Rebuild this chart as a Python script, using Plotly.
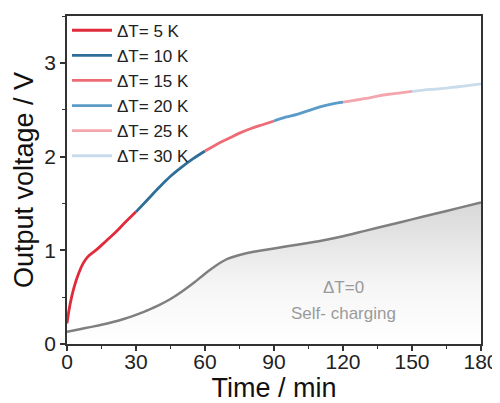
import plotly.graph_objects as go

# Data
seg_names = ["ΔT= 5 K", "ΔT= 10 K", "ΔT= 15 K", "ΔT= 20 K", "ΔT= 25 K", "ΔT= 30 K"]
seg_colors = ["#e02b3b", "#2f6e98", "#ee6b74", "#5a9bc8", "#f4a6ae", "#c9dcec"]

t5 = [0, 1, 2, 3, 5, 7, 9, 13, 17, 21, 25, 30]
v5 = [0.22, 0.38, 0.50, 0.60, 0.75, 0.86, 0.93, 1.01, 1.10, 1.19, 1.29, 1.41]
t10 = [30, 35, 40, 45, 50, 55, 60]
v10 = [1.41, 1.54, 1.67, 1.79, 1.89, 1.98, 2.06]
t15 = [60, 65, 70, 75, 80, 85, 90]
v15 = [2.06, 2.13, 2.19, 2.25, 2.30, 2.34, 2.38]
t20 = [90, 95, 100, 105, 110, 115, 120]
v20 = [2.38, 2.42, 2.45, 2.49, 2.53, 2.56, 2.58]
t25 = [120, 125, 130, 135, 140, 145, 150]
v25 = [2.58, 2.60, 2.62, 2.645, 2.665, 2.68, 2.695]
t30 = [150, 155, 160, 165, 170, 175, 180]
v30 = [2.695, 2.71, 2.72, 2.73, 2.745, 2.76, 2.775]

t_self = [0, 5, 10, 15, 20, 25, 30, 35, 40, 45, 50, 55, 60, 65, 70, 75, 80,
          90, 100, 110, 120, 130, 140, 150, 160, 170, 180]
v_self = [0.13, 0.155, 0.18, 0.205, 0.235, 0.27, 0.31, 0.36, 0.415, 0.48, 0.56, 0.65,
          0.75, 0.84, 0.91, 0.95, 0.98, 1.02, 1.06, 1.10, 1.15, 1.21, 1.27, 1.33,
          1.39, 1.45, 1.51]

x_ticks = [0, 30, 60, 90, 120, 150, 180]
y_ticks = [0, 1, 2, 3]

FONT = "Liberation Sans, Arial, sans-serif"

fig = go.Figure()

fig.add_trace(go.Scatter(
    x=t_self, y=v_self, mode="lines", showlegend=False,
    line=dict(color="#7f7f7f", width=2.5, shape="spline"),
    fill="tozeroy",
    fillgradient=dict(type="vertical",
                      colorscale=[[0, "rgb(255,255,255)"], [0.4, "rgb(246,246,246)"],
                                  [1, "rgb(216,216,216)"]]),
    hoverinfo="skip",
))

segs = [(t5, v5), (t10, v10), (t15, v15), (t20, v20), (t25, v25), (t30, v30)]
for (tx, vy), name, col in zip(segs, seg_names, seg_colors):
    fig.add_trace(go.Scatter(
        x=tx, y=vy, mode="lines", name=name,
        line=dict(color=col, width=2.8, shape="spline"),
    ))

fig.add_annotation(x=120, y=0.6, text="ΔT=0", showarrow=False,
                   font=dict(size=17, color="#9a9a9a", family=FONT))
fig.add_annotation(x=120, y=0.33, text="Self- charging", showarrow=False,
                   font=dict(size=17, color="#9a9a9a", family=FONT))

axis_common = dict(
    showline=True, linecolor="#333333", linewidth=1.5, mirror=True,
    showgrid=False, zeroline=False, automargin=False,
    ticks="outside", ticklen=5, tickwidth=1.5, tickcolor="#333333",
    tickfont=dict(size=21, color="#222222", family=FONT),
)

fig.update_xaxes(
    range=[0, 180], tickvals=x_ticks, ticklabelstandoff=-7,
    title=dict(text="Time / min", font=dict(size=27, color="#111111", family=FONT), standoff=19),
    minor=dict(dtick=15, ticks="outside", ticklen=3, tickwidth=1.2, tickcolor="#333333"),
    **axis_common,
)
fig.update_yaxes(
    range=[0, 3.5], tickvals=y_ticks,
    title=dict(text="Output voltage / V", font=dict(size=27, color="#111111", family=FONT), standoff=3),
    minor=dict(dtick=0.5, ticks="outside", ticklen=3, tickwidth=1.2, tickcolor="#333333"),
    **axis_common,
)

# the page body adds an 8px offset, so the figure is sized to fit the 500x403 window
fig.update_layout(
    width=492, height=395,
    margin=dict(l=59, r=19, t=5, b=59),
    paper_bgcolor="white", plot_bgcolor="white",
    font=dict(family=FONT, color="#222222"),
    legend=dict(x=0.0, y=1.01, xanchor="left", yanchor="top",
                bgcolor="rgba(0,0,0,0)", font=dict(size=17, family=FONT, color="#222222"),
                itemwidth=40, tracegroupgap=0),
)

fig.write_html("out.html")
